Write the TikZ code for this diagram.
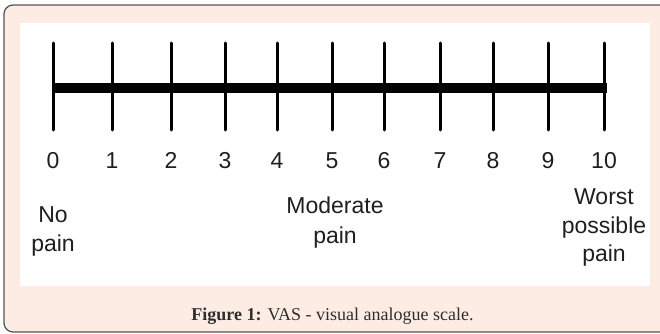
\documentclass[tikz,border=0pt]{standalone}
\usepackage{fontspec}
\newfontfamily\arialf{Liberation Sans}
\newfontfamily\capf{Liberation Serif}
\definecolor{panelpink}{HTML}{FCECE4}
\definecolor{framegray}{HTML}{555555}
\begin{document}
\begin{tikzpicture}[x=1pt,y=-1pt,
  tickline/.style={line width=3pt,line cap=round},
  barline/.style={line width=10pt},
  lbl/.style={font=\arialf\fontsize{23}{28}\selectfont,anchor=base,inner sep=0pt,text=black!88},
  captext/.style={font=\capf\fontsize{18}{21}\selectfont,anchor=base,inner sep=0pt,text=black!82}]
\useasboundingbox (0,0) rectangle (660,334);
\clip (0,0) rectangle (660,334);
\draw[fill=panelpink,draw=framegray,line width=1.3pt,rounded corners=9pt] (4,5) rectangle (680,332);
\fill[white] (20,23) rectangle (650,286);
% tick positions
\foreach \i/\x in {0/53,1/112,2/171,3/225,4/277,5/332,6/384,7/440,8/493,9/548,10/604}{
  \coordinate (t\i) at (\x,43);
  \coordinate (b\i) at (\x,130);
  \node[lbl] (n\i) at (\x,168) {\i};
}
\foreach \i in {0,...,10}{\draw[tickline] (t\i) -- (b\i);}
\coordinate (bs) at (53,88);
\coordinate (be) at (607,88);
\draw[barline] (bs) -- (be);
\node[lbl] (no1) at (53,222) {No};
\node[lbl] (no2) at (53,251) {pain};
\node[lbl] (mo1) at (335,213) {Moderate};
\node[lbl] (mo2) at (335,243) {pain};
\node[lbl] (wo1) at (604,204) {Worst};
\node[lbl] (wo2) at (604,233) {possible};
\node[lbl] (wo3) at (604,261) {pain};
\node[captext] (caption) at (332.5,320) {\textbf{Figure 1:} VAS - visual analogue scale.};
\end{tikzpicture}
\end{document}
